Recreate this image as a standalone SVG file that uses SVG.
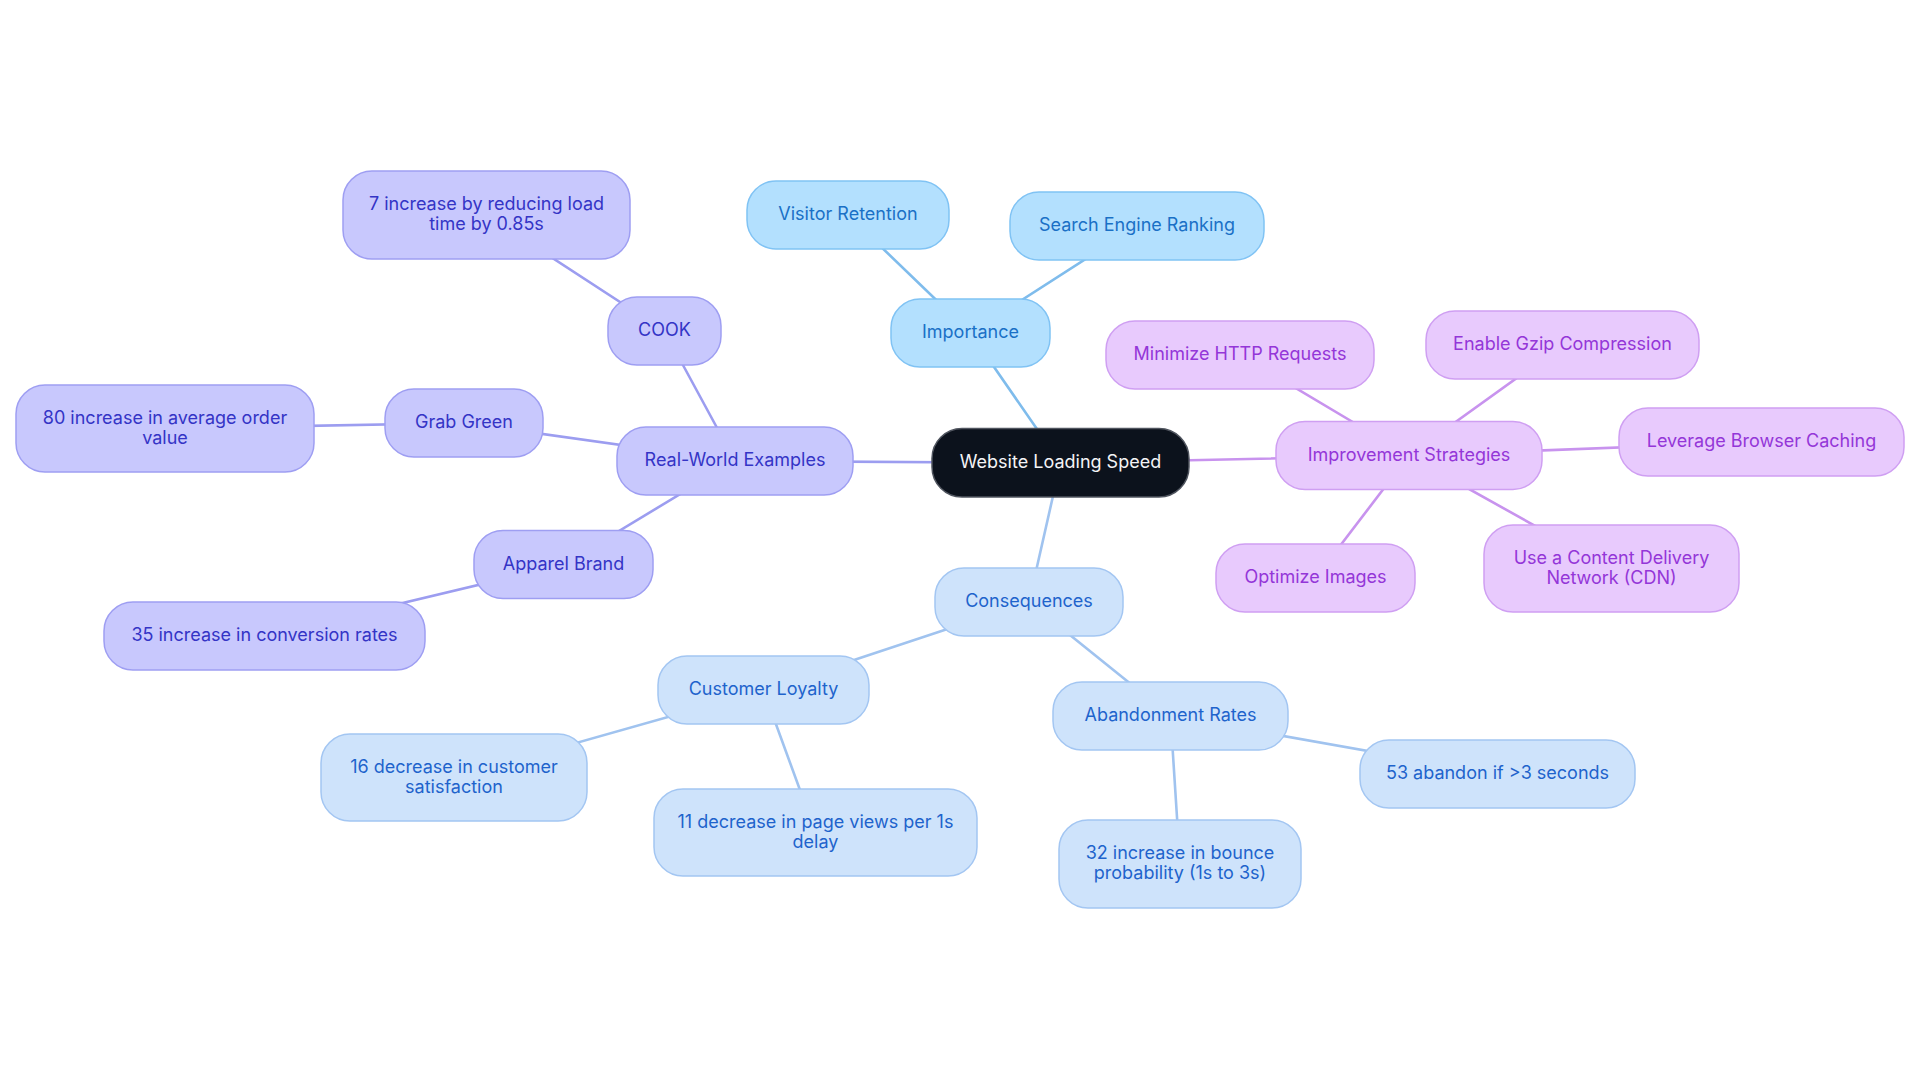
<svg xmlns="http://www.w3.org/2000/svg" width="1920" height="1083" viewBox="0 0 1920 1083">
<style>
text{font-family:Inter,"Noto Sans","Liberation Sans",sans-serif;font-size:18px;text-anchor:middle}
.edge{fill:none;stroke-width:2.6;stroke-linecap:round}
.e-imp{stroke:#7fbcec}
.e-con{stroke:#a0c3ef}
.e-str{stroke:#c893ee}
.e-rw{stroke:#9c9df0}
rect{stroke-width:1.5}
.root rect{fill:#0c121c;stroke:#50555f}
.root text{fill:#f4f4f6}
.imp rect{fill:#b3e0fe;stroke:#80c3f4}
.imp text{fill:#1a70c6}
.con rect{fill:#cee3fb;stroke:#a3c6f2}
.con text{fill:#1e63cc}
.str rect{fill:#e8cafd;stroke:#cf9ff2}
.str text{fill:#9436d8}
.rw rect{fill:#c8c8fd;stroke:#9e9ef2}
.rw text{fill:#3434c6}
</style>
<rect width="1920" height="1083" fill="#ffffff"/>
<g id="connectors">
<line class="edge e-imp" x1="1060.5" y1="463" x2="970.5" y2="333"/>
<line class="edge e-imp" x1="970.5" y1="333" x2="848" y2="215"/>
<line class="edge e-imp" x1="970.5" y1="333" x2="1137" y2="226"/>
<line class="edge e-str" x1="1060.5" y1="463" x2="1409" y2="455.5"/>
<line class="edge e-str" x1="1409" y1="455.5" x2="1240" y2="355"/>
<line class="edge e-str" x1="1409" y1="455.5" x2="1562.5" y2="345"/>
<line class="edge e-str" x1="1409" y1="455.5" x2="1761.5" y2="442"/>
<line class="edge e-str" x1="1409" y1="455.5" x2="1611.5" y2="568.5"/>
<line class="edge e-str" x1="1409" y1="455.5" x2="1315.5" y2="578"/>
<line class="edge e-con" x1="1060.5" y1="463" x2="1029" y2="602"/>
<line class="edge e-con" x1="1029" y1="602" x2="763.5" y2="690"/>
<line class="edge e-con" x1="763.5" y1="690" x2="454" y2="777.5"/>
<line class="edge e-con" x1="763.5" y1="690" x2="815.5" y2="832.5"/>
<line class="edge e-con" x1="1029" y1="602" x2="1170.5" y2="716"/>
<line class="edge e-con" x1="1170.5" y1="716" x2="1497.5" y2="774"/>
<line class="edge e-con" x1="1170.5" y1="716" x2="1180" y2="864"/>
<line class="edge e-rw" x1="1060.5" y1="463" x2="735" y2="461"/>
<line class="edge e-rw" x1="735" y1="461" x2="664.5" y2="331"/>
<line class="edge e-rw" x1="664.5" y1="331" x2="486.5" y2="215"/>
<line class="edge e-rw" x1="735" y1="461" x2="464" y2="423"/>
<line class="edge e-rw" x1="464" y1="423" x2="165" y2="428.5"/>
<line class="edge e-rw" x1="735" y1="461" x2="563.5" y2="564.5"/>
<line class="edge e-rw" x1="563.5" y1="564.5" x2="264.5" y2="636"/>
</g>
<g id="root" class="root"><rect x="932" y="428.5" width="257" height="68.5" rx="30"/><text x="1060.5" y="468">Website Loading Speed</text></g>
<g id="importance" class="imp"><rect x="891" y="299" width="159" height="68" rx="29"/><text x="970.5" y="338">Importance</text></g>
<g id="visitor-retention" class="imp"><rect x="747" y="181" width="202" height="68" rx="29"/><text x="848" y="220">Visitor Retention</text></g>
<g id="search-engine-ranking" class="imp"><rect x="1010" y="192" width="254" height="68" rx="29"/><text x="1137" y="231">Search Engine Ranking</text></g>
<g id="improvement-strategies" class="str"><rect x="1276" y="421.5" width="266" height="68" rx="29"/><text x="1409" y="460.5">Improvement Strategies</text></g>
<g id="minimize-http" class="str"><rect x="1106" y="321" width="268" height="68" rx="29"/><text x="1240" y="360">Minimize HTTP Requests</text></g>
<g id="enable-gzip" class="str"><rect x="1426" y="311" width="273" height="68" rx="29"/><text x="1562.5" y="350">Enable Gzip Compression</text></g>
<g id="leverage-caching" class="str"><rect x="1619" y="408" width="285" height="68" rx="29"/><text x="1761.5" y="447">Leverage Browser Caching</text></g>
<g id="use-cdn" class="str"><rect x="1484" y="525" width="255" height="87" rx="29"/><text x="1611.5" y="563.5">Use a Content Delivery</text><text x="1611.5" y="583.5">Network (CDN)</text></g>
<g id="optimize-images" class="str"><rect x="1216" y="544" width="199" height="68" rx="29"/><text x="1315.5" y="583">Optimize Images</text></g>
<g id="consequences" class="con"><rect x="935" y="568" width="188" height="68" rx="29"/><text x="1029" y="607">Consequences</text></g>
<g id="customer-loyalty" class="con"><rect x="658" y="656" width="211" height="68" rx="29"/><text x="763.5" y="695">Customer Loyalty</text></g>
<g id="decrease-satisfaction" class="con"><rect x="321" y="734" width="266" height="87" rx="29"/><text x="454" y="772.5">16 decrease in customer</text><text x="454" y="792.5">satisfaction</text></g>
<g id="decrease-page-views" class="con"><rect x="654" y="789" width="323" height="87" rx="29"/><text x="815.5" y="827.5">11 decrease in page views per 1s</text><text x="815.5" y="847.5">delay</text></g>
<g id="abandonment-rates" class="con"><rect x="1053" y="682" width="235" height="68" rx="29"/><text x="1170.5" y="721">Abandonment Rates</text></g>
<g id="abandon-3s" class="con"><rect x="1360" y="740" width="275" height="68" rx="29"/><text x="1497.5" y="779">53 abandon if &gt;3 seconds</text></g>
<g id="bounce-probability" class="con"><rect x="1059" y="820" width="242" height="88" rx="29"/><text x="1180" y="858.5">32 increase in bounce</text><text x="1180" y="878.5">probability (1s to 3s)</text></g>
<g id="real-world-examples" class="rw"><rect x="617" y="427" width="236" height="68" rx="29"/><text x="735" y="466">Real-World Examples</text></g>
<g id="cook" class="rw"><rect x="608" y="297" width="113" height="68" rx="29"/><text x="664.5" y="336">COOK</text></g>
<g id="cook-increase" class="rw"><rect x="343" y="171" width="287" height="88" rx="29"/><text x="486.5" y="210">7 increase by reducing load</text><text x="486.5" y="230">time by 0.85s</text></g>
<g id="grab-green" class="rw"><rect x="385" y="389" width="158" height="68" rx="29"/><text x="464" y="428">Grab Green</text></g>
<g id="order-value" class="rw"><rect x="16" y="385" width="298" height="87" rx="29"/><text x="165" y="423.5">80 increase in average order</text><text x="165" y="443.5">value</text></g>
<g id="apparel-brand" class="rw"><rect x="474" y="530.5" width="179" height="68" rx="29"/><text x="563.5" y="569.5">Apparel Brand</text></g>
<g id="conversion-rates" class="rw"><rect x="104" y="602" width="321" height="68" rx="29"/><text x="264.5" y="641">35 increase in conversion rates</text></g>
</svg>
